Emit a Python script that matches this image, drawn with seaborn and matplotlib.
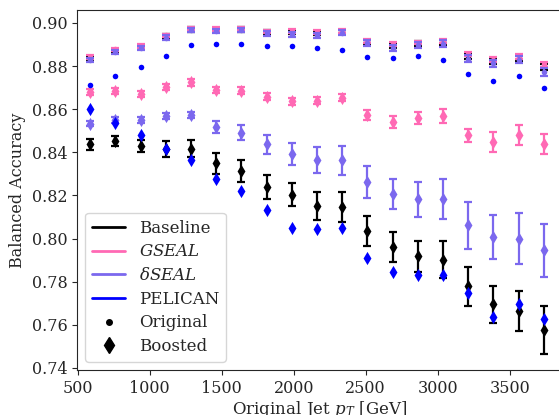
import matplotlib
matplotlib.use("Agg")
import matplotlib.pyplot as plt
from matplotlib.lines import Line2D
import seaborn as sns

# bin centres of original jet pT [GeV]
pt = [587.5, 762.5, 937.5, 1112.5, 1287.5, 1462.5, 1637.5, 1812.5, 1987.5, 2162.5,
      2337.5, 2512.5, 2687.5, 2862.5, 3037.5, 3212.5, 3387.5, 3562.5, 3737.5]

# "Original" samples
base_orig = [0.8835, 0.8870, 0.8888, 0.8937, 0.8970, 0.8967, 0.8970, 0.8956, 0.8958, 0.8952,
             0.8958, 0.8912, 0.8893, 0.8903, 0.8911, 0.8847, 0.8822, 0.8838, 0.8796]
base_orig_err = [0.0010, 0.0010, 0.0010, 0.0010, 0.0010, 0.0010, 0.0010, 0.0010, 0.0010, 0.0010,
                 0.0010, 0.0010, 0.0011, 0.0011, 0.0012, 0.0012, 0.0013, 0.0013, 0.0015]
gseal_orig = [0.8842, 0.8877, 0.8893, 0.8942, 0.8974, 0.8971, 0.8974, 0.8960, 0.8963, 0.8958,
              0.8963, 0.8916, 0.8901, 0.8909, 0.8916, 0.8855, 0.8830, 0.8845, 0.8808]
gseal_orig_err = [0.0008, 0.0008, 0.0008, 0.0008, 0.0008, 0.0008, 0.0008, 0.0008, 0.0008, 0.0008,
                  0.0008, 0.0009, 0.0009, 0.0009, 0.0010, 0.0010, 0.0011, 0.0011, 0.0012]
dseal_orig = [0.8827, 0.8864, 0.8884, 0.8932, 0.8966, 0.8963, 0.8966, 0.8951, 0.8948, 0.8943,
              0.8954, 0.8907, 0.8884, 0.8897, 0.8904, 0.8835, 0.8812, 0.8830, 0.8773]
dseal_orig_err = [0.0010, 0.0010, 0.0010, 0.0010, 0.0010, 0.0010, 0.0010, 0.0010, 0.0011, 0.0011,
                  0.0012, 0.0013, 0.0014, 0.0014, 0.0015, 0.0016, 0.0017, 0.0017, 0.0018]
pelican_orig = [0.8712, 0.8753, 0.8796, 0.8847, 0.8898, 0.8904, 0.8904, 0.8893, 0.8895, 0.8886,
                0.8875, 0.8844, 0.8836, 0.8845, 0.8827, 0.8765, 0.8729, 0.8754, 0.8696]

# "Boosted" samples
base_boost = [0.8437, 0.8452, 0.8428, 0.8417, 0.8417, 0.8348, 0.8313, 0.8239, 0.8204, 0.8151,
              0.8146, 0.8033, 0.7961, 0.7917, 0.7902, 0.7778, 0.7695, 0.7662, 0.7574]
base_boost_err = [0.0026, 0.0023, 0.0028, 0.0037, 0.0041, 0.0050, 0.0050, 0.0056, 0.0054, 0.0066,
                  0.0068, 0.0070, 0.0071, 0.0073, 0.0087, 0.0090, 0.0087, 0.0093, 0.0112]
gseal_boost = [0.8680, 0.8684, 0.8669, 0.8702, 0.8725, 0.8688, 0.8686, 0.8657, 0.8637, 0.8640,
               0.8654, 0.8575, 0.8540, 0.8559, 0.8567, 0.8478, 0.8448, 0.8482, 0.8440]
gseal_boost_err = [0.0014, 0.0014, 0.0014, 0.0014, 0.0016, 0.0015, 0.0015, 0.0016, 0.0016, 0.0017,
                   0.0018, 0.0023, 0.0028, 0.0028, 0.0032, 0.0032, 0.0046, 0.0046, 0.0046]
dseal_boost = [0.8533, 0.8549, 0.8549, 0.8568, 0.8575, 0.8517, 0.8491, 0.8437, 0.8394, 0.8363,
               0.8363, 0.8262, 0.8208, 0.8181, 0.8182, 0.8061, 0.8007, 0.8000, 0.7945]
dseal_boost_err = [0.0010, 0.0014, 0.0014, 0.0014, 0.0014, 0.0028, 0.0035, 0.0044, 0.0051, 0.0060,
                   0.0068, 0.0074, 0.0070, 0.0079, 0.0093, 0.0110, 0.0102, 0.0120, 0.0124]
pelican_boost = [0.8603, 0.8536, 0.8479, 0.8414, 0.8366, 0.8278, 0.8219, 0.8131, 0.8051, 0.8046,
                 0.8049, 0.7911, 0.7845, 0.7829, 0.7832, 0.7747, 0.7636, 0.7698, 0.7628]

models = ["Baseline", "$GSEAL$", r"$\delta SEAL$", "PELICAN"]
colors = ["black", "hotpink", "mediumslateblue", "blue"]

sns.set_style("ticks")
plt.rcParams["font.family"] = ["DejaVu Serif"]
plt.rcParams["mathtext.fontset"] = "dejavuserif"
plt.rcParams["font.size"] = 11

fig = plt.figure(figsize=(5.59, 4.15), dpi=100)
ax = fig.add_axes([0.1377, 0.1084, 0.8694, 0.8675])

series = [
    (base_orig, base_orig_err, base_boost, base_boost_err, colors[0]),
    (gseal_orig, gseal_orig_err, gseal_boost, gseal_boost_err, colors[1]),
    (dseal_orig, dseal_orig_err, dseal_boost, dseal_boost_err, colors[2]),
    (pelican_orig, None, pelican_boost, None, colors[3]),
]

z = 2
for orig, orig_err, boost, boost_err, c in series:
    for vals, errs, mk, size in [(orig, orig_err, "o", 16), (boost, boost_err, "d", 45)]:
        if errs is not None:
            ax.errorbar(pt, vals, yerr=errs, fmt="none", ecolor=c, elinewidth=1.6,
                        capsize=3, capthick=1.6, zorder=z)
        sns.scatterplot(x=pt, y=vals, marker=mk, s=size, color=c, edgecolor=c,
                        linewidth=0, ax=ax, zorder=z + 1)
        z += 2

ax.set_xlim(495, 3870)
ax.set_ylim(0.739, 0.906)
ax.set_xticks([500, 1000, 1500, 2000, 2500, 3000, 3500])
ax.set_yticks([0.74, 0.76, 0.78, 0.80, 0.82, 0.84, 0.86, 0.88, 0.90])
ax.set_yticklabels([f"{t:.2f}" for t in ax.get_yticks()])
ax.tick_params(labelsize=11.5)
ax.set_xlabel("Original Jet $p_T$ [GeV]", fontsize=12, labelpad=1.5)
ax.set_ylabel("Balanced Accuracy", fontsize=11.5)

handles = [Line2D([], [], color=c, lw=2) for c in colors]
handles += [Line2D([], [], color="black", marker=".", ls="none", markersize=8),
            Line2D([], [], color="black", marker="d", ls="none", markersize=8)]
labels = models + ["Original", "Boosted"]
ax.legend(handles, labels, loc="lower left", frameon=True, fontsize=12, labelspacing=0.4)

plt.savefig("out.png", dpi=100)
